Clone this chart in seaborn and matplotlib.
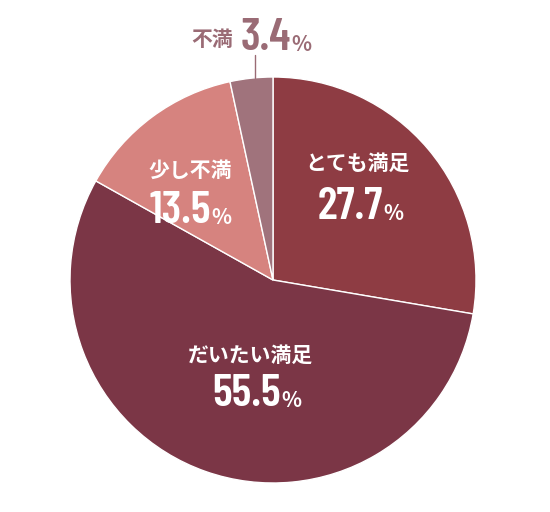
import matplotlib
matplotlib.use("Agg")
import matplotlib.pyplot as plt
import seaborn as sns

sns.set_style("white")
plt.rcParams['font.family'] = ['Noto Sans CJK JP', 'DejaVu Sans']

labels = ["とても満足", "だいたい満足", "少し不満", "不満"]
values = [27.7, 55.5, 13.5, 3.4]
colors = ["#8e3c43", "#7b3646", "#d6837f", "#a0737c"]

num_font = ["Barlow Condensed", "DejaVu Sans"]

fig = plt.figure(figsize=(5.5, 5.12), dpi=100)
ax = fig.add_axes([70 / 550, 29 / 512, 406 / 550, 406 / 512])
ax.pie(values, colors=colors, startangle=90, counterclock=False,
       wedgeprops=dict(edgecolor="white", linewidth=1))
ax.set_xlim(-1, 1)
ax.set_ylim(-1, 1)
ax.set_aspect("equal")
ax.axis("off")


def px(x, y):
    return (x - 273) / 203, (280 - y) / 203


def put_number(val, split, y, color):
    nx, ny = px(split, y)
    ax.text(nx, ny, f"{val}", ha="right", va="center", fontsize=33,
            fontweight="semibold", color=color, family=num_font)
    ax.text(nx + 0.004, ny - 0.03, "%", ha="left", va="center", fontsize=15,
            fontweight="bold", color=color)


def put_label(name, val, cx, y_name, y_num, color, split):
    ax.text(*px(cx, y_name), name, ha="center", va="center", fontsize=15,
            fontweight="bold", color=color)
    put_number(val, split, y_num, color)


# inside labels
put_label(labels[0], values[0], 357, 163, 207, "white", 383)
put_label(labels[1], values[1], 250, 355, 394, "white", 281)
put_label(labels[2], values[2], 190, 170, 211, "white", 211)

# outside label for the small slice
tx, ty = px(255, 78)
lx, ly = px(255, 55)
ax.plot([tx, lx], [ty, ly], color="#9a6b75", lw=1, clip_on=False)
ax.text(*px(212, 39), labels[3], ha="center", va="center", fontsize=15,
        fontweight="bold", color="#9a6b75")
put_number(values[3], 291, 38, "#9a6b75")

fig.savefig("out.png", dpi=100)
